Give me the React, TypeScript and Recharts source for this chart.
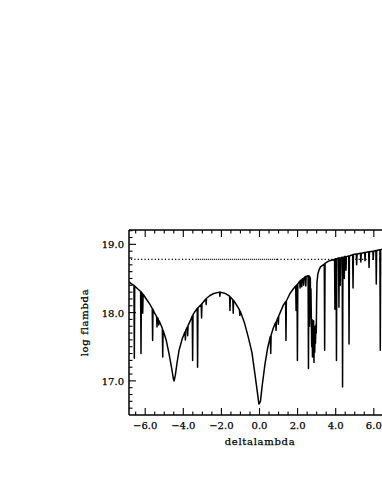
import { Line, LineChart, ReferenceLine, XAxis, YAxis } from "recharts";

// deltalambda / log flambda samples (absorption lines as narrow spikes)
const spectrumX = [
  -6.85, -6.72, -6.59, -6.57, -6.55, -6.4, -6.24, -6.22, -6.2, -6.15, -6.13, -6.11,
  -5.97, -5.75, -5.63, -5.61, -5.59, -5.54, -5.4, -5.38, -5.36, -5.31, -5.29, -5.27,
  -5.1, -5.08, -5.06, -4.9, -4.75, -4.62, -4.52, -4.48, -4.42, -4.32, -4.22, -4.05,
  -3.91, -3.89, -3.87, -3.79, -3.77, -3.75, -3.62, -3.53, -3.51, -3.49, -3.4,
  -3.27, -3.25, -3.23, -3.06, -3.04, -3.02, -2.82, -2.8, -2.78, -2.6, -2.4,
  -2.1, -2.08, -2.06, -1.8, -1.57, -1.55, -1.53, -1.4, -1.38, -1.36, -1.2,
  -1.05, -1.03, -1.01, -0.8, -0.59, -0.4, -0.24, -0.12, -0.03, 0.05, 0.15, 0.29,
  0.42, 0.57, 0.59, 0.61, 0.72, 0.85, 0.87, 0.89, 0.97, 0.99, 1.01, 1.25,
  1.37, 1.39, 1.41, 1.6, 1.78, 1.9, 1.92, 1.94, 1.97, 1.99, 2.01,
  2.11, 2.13, 2.15, 2.2, 2.22, 2.24, 2.3, 2.32, 2.34, 2.41, 2.43, 2.45,
  2.55, 2.57, 2.59, 2.62, 2.63, 2.65, 2.67, 2.68, 2.7, 2.72, 2.74, 2.76,
  2.78, 2.8, 2.82, 2.84, 2.86, 2.88, 2.9, 2.92, 2.94, 2.96, 2.98, 3.0,
  3.02, 3.06, 3.12, 3.2, 3.4, 3.42, 3.44, 3.6, 3.8, 3.94, 3.96, 3.98,
  4.02, 4.04, 4.06, 4.15, 4.17, 4.19, 4.22, 4.24, 4.26, 4.34, 4.36, 4.38,
  4.43, 4.45, 4.47, 4.52, 4.54, 4.56, 4.68, 4.7, 4.72, 4.89, 4.91, 4.93,
  5.08, 5.1, 5.12, 5.3, 5.32, 5.34, 5.52, 5.54, 5.56, 5.73, 5.75, 5.77,
  5.95, 5.97, 5.99, 6.11, 6.13, 6.15, 6.32, 6.34, 6.36, 6.45, 6.6, 6.85,
];
const spectrumY = [
  18.45, 18.42, 18.4, 17.33, 18.39, 18.35, 18.31, 17.4, 18.3, 18.28, 17.99, 18.27,
  18.21, 18.12, 18.06, 17.59, 18.05, 18.01, 17.94, 17.79, 17.93, 17.9, 17.82, 17.88,
  17.77, 17.35, 17.74, 17.6, 17.4, 17.2, 17.03, 17.0, 17.08, 17.28, 17.45, 17.62,
  17.72, 17.6, 17.74, 17.79, 17.66, 17.81, 17.89, 17.95, 17.3, 17.97, 18.01,
  18.06, 17.2, 18.07, 18.12, 17.92, 18.13, 18.2, 18.12, 18.21, 18.25, 18.28,
  18.3, 18.24, 18.3, 18.28, 18.24, 18.03, 18.23, 18.19, 17.99, 18.18, 18.11,
  18.04, 17.96, 18.02, 17.86, 17.64, 17.42, 17.1, 16.85, 16.66, 16.7, 16.95, 17.25,
  17.47, 17.65, 17.4, 17.67, 17.77, 17.86, 17.74, 17.87, 17.93, 17.83, 17.95, 18.11,
  18.16, 17.59, 18.17, 18.28, 18.35, 18.39, 18.03, 18.4, 18.41, 17.3, 18.42,
  18.46, 18.36, 18.47, 18.48, 18.38, 18.49, 18.5, 18.4, 18.51, 18.53, 18.39, 18.53,
  18.54, 17.18, 18.54, 18.53, 17.8, 18.52, 18.5, 17.92, 18.35, 17.95, 17.5, 17.9,
  17.35, 17.85, 17.6, 17.88, 17.27, 17.8, 17.42, 17.75, 17.55, 17.82, 17.7, 18.2,
  18.45, 18.56, 18.62, 18.67, 18.71, 17.45, 18.72, 18.75, 18.77, 18.78, 18.05, 18.79,
  18.79, 17.3, 18.79, 18.8, 18.08, 18.8, 18.8, 18.4, 18.8, 18.81, 16.91, 18.81,
  18.81, 18.5, 18.82, 18.82, 18.62, 18.82, 18.83, 17.54, 18.83, 18.85, 18.36, 18.85,
  18.86, 18.7, 18.86, 18.87, 18.74, 18.87, 18.88, 18.76, 18.88, 18.89, 18.66, 18.89,
  18.9, 18.78, 18.9, 18.91, 18.42, 18.91, 18.92, 17.45, 18.92, 18.93, 18.94, 18.95,
];

const dottedLevel = 18.78;
const xTicks = [
  -6.5, -6, -5.5, -5, -4.5, -4, -3.5, -3, -2.5, -2, -1.5, -1, -0.5, 0, 0.5, 1, 1.5,
  2, 2.5, 3, 3.5, 4, 4.5, 5, 5.5, 6, 6.5,
];
const yTicks = [
  16.6, 16.7, 16.8, 16.9, 17, 17.1, 17.2, 17.3, 17.4, 17.5, 17.6, 17.7, 17.8, 17.9,
  18, 18.1, 18.2, 18.3, 18.4, 18.5, 18.6, 18.7, 18.8, 18.9, 19, 19.1, 19.2,
];

const data = spectrumX.map((x, i) => ({ x, y: spectrumY[i] }));

const FONT = "'DejaVu Serif', serif";
// thin outline so the labels look as heavy as the plotted font
const textStyle = { fontFamily: FONT, fontSize: 10, fill: "#000", stroke: "#000", strokeWidth: 0.25 };

const isMajorX = (v: number) => Math.abs(v / 2 - Math.round(v / 2)) < 1e-6;
const isMajorY = (v: number) => Math.abs(v - Math.round(v)) < 1e-6;
const fmt = (v: number) => (v < 0 ? "\u2212" + Math.abs(v).toFixed(1) : v.toFixed(1));

function BottomTick({ x, y, payload }: any) {
  const major = isMajorX(payload.value);
  return (
    <g>
      <line x1={x} x2={x} y1={y} y2={y - (major ? 7 : 3.5)} stroke="#000" strokeWidth={1.1} />
      {major && (
        <text x={x} y={y + 14} textAnchor="middle" {...textStyle}>
          {fmt(payload.value)}
        </text>
      )}
    </g>
  );
}

function TopTick({ x, y, payload }: any) {
  const major = isMajorX(payload.value);
  return <line x1={x} x2={x} y1={y} y2={y + (major ? 7 : 3.5)} stroke="#000" strokeWidth={1.1} />;
}

function LeftTick({ x, y, payload }: any) {
  const major = isMajorY(payload.value);
  return (
    <g>
      <line x1={x} x2={x + (major ? 7 : 3.5)} y1={y} y2={y} stroke="#000" strokeWidth={1.1} />
      {major && (
        <text x={x - 5} y={y + 4} textAnchor="end" {...textStyle}>
          {payload.value.toFixed(1)}
        </text>
      )}
    </g>
  );
}

const yLabel = () => (
  <text x={88} y={322.5} transform="rotate(-90 88 322.5)" textAnchor="middle" letterSpacing={0.7} {...textStyle}>
    log flambda
  </text>
);

const xLabel = () => (
  <text x={260} y={445} textAnchor="middle" letterSpacing={0.7} {...textStyle}>
    deltalambda
  </text>
);

export default function App() {
  const axisLine = { stroke: "#000", strokeWidth: 1.5 };
  return (
    <div
      style={{
        position: "absolute",
        left: 0,
        top: 0,
        width: 382,
        height: 490,
        overflow: "hidden",
        background: "#fff",
      }}
    >
      <LineChart width={410} height={480} data={data} margin={{ top: 229, right: 20, bottom: 35, left: 84 }}>
        <XAxis
          xAxisId="bottom"
          dataKey="x"
          type="number"
          domain={[-6.85, 6.85]}
          allowDataOverflow
          ticks={xTicks}
          interval={0}
          height={30}
          tickSize={0}
          tickMargin={0}
          tickLine={false}
          axisLine={axisLine}
          tick={<BottomTick />}
          label={xLabel}
        />
        <XAxis
          xAxisId="top"
          orientation="top"
          dataKey="x"
          type="number"
          domain={[-6.85, 6.85]}
          allowDataOverflow
          ticks={xTicks}
          interval={0}
          height={1}
          tickSize={0}
          tickMargin={0}
          tickLine={false}
          axisLine={axisLine}
          tick={<TopTick />}
        />
        <YAxis
          type="number"
          domain={[16.5, 19.21]}
          allowDataOverflow
          ticks={yTicks}
          interval={0}
          width={45}
          tickSize={0}
          tickMargin={0}
          tickLine={false}
          axisLine={axisLine}
          tick={<LeftTick />}
          label={yLabel}
        />
        <ReferenceLine
          xAxisId="bottom"
          segment={[{ x: -6.75, y: dottedLevel }, { x: -3.24, y: dottedLevel }]}
          stroke="#000"
          strokeWidth={1.1}
          strokeDasharray="1.2 2.2"
        />
        <ReferenceLine
          xAxisId="bottom"
          segment={[{ x: -3.24, y: dottedLevel }, { x: 0.92, y: dottedLevel }]}
          stroke="#000"
          strokeWidth={1.1}
          strokeDasharray="1 1"
        />
        <ReferenceLine
          xAxisId="bottom"
          segment={[{ x: 0.92, y: dottedLevel }, { x: 6.85, y: dottedLevel }]}
          stroke="#000"
          strokeWidth={1.1}
          strokeDasharray="1.2 2.2"
        />
        <Line
          xAxisId="bottom"
          dataKey="y"
          type="linear"
          stroke="#000"
          strokeWidth={1.5}
          strokeLinejoin="round"
          dot={false}
          isAnimationActive={false}
        />
      </LineChart>
    </div>
  );
}
